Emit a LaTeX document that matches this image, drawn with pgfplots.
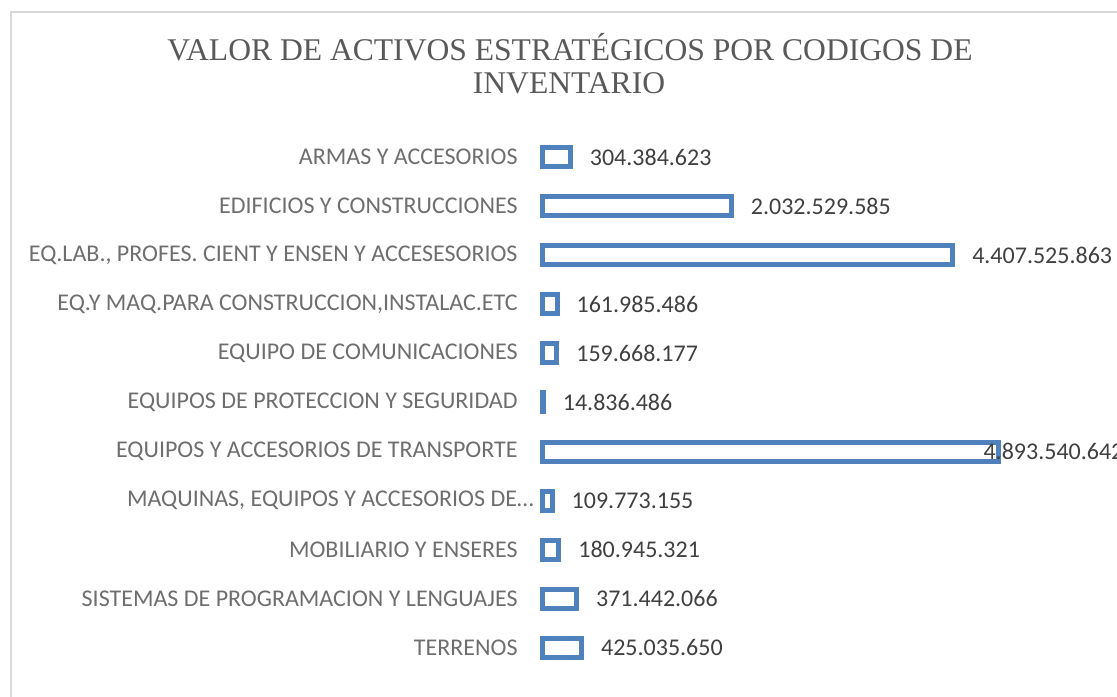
\documentclass[border=0pt]{standalone}
\usepackage{pgfplots}
\pgfplotsset{compat=1.18}
\usepackage{pgfplotstable}
\usepackage{fontspec}
\setmainfont{Liberation Serif}
\newfontfamily\carlito{Carlito}
\definecolor{barblue}{HTML}{4F81BD}
\definecolor{titlegray}{HTML}{595959}
\definecolor{catgray}{HTML}{6E6E6E}
\definecolor{valgray}{HTML}{404040}
\definecolor{framegray}{HTML}{D9D9D9}

\pgfplotstableread{
y val lab sh
0 304384623 304.384.623 8.5
1 2032529585 2.032.529.585 8.5
2 4407525863 4.407.525.863 8.5
3 161985486 161.985.486 8.5
4 159668177 159.668.177 8.5
5 14836486 14.836.486 8.5
6 4893540642 4.893.540.642 -8.5
7 109773155 109.773.155 8.5
8 180945321 180.945.321 8.5
9 371442066 371.442.066 8.5
10 425035650 425.035.650 8.5
}\datatable

\begin{document}
\begin{tikzpicture}
\begin{scope}[x=0.5pt,y=-0.5pt]
\path[use as bounding box] (0,0) rectangle (1117,696);
\clip (0,0) rectangle (1117,696);
\draw[framegray, line width=0.8pt] (11,720) -- (11,12) -- (1140,12);
\node[anchor=base, font=\fontsize{15.8}{18}\selectfont, text=titlegray, inner sep=0pt] at (570,60) {VALOR DE ACTIVOS ESTRATÉGICOS POR CODIGOS DE};
\node[anchor=base, font=\fontsize{15.8}{18}\selectfont, text=titlegray, inner sep=0pt] at (569,93) {INVENTARIO};
\coordinate (A) at (542,132.45);
\end{scope}
\begin{scope}
\clip (0pt,0pt) rectangle (558.5pt,-348pt);
\begin{axis}[
  at={(A)}, anchor=north west,
  scale only axis, width=233pt, height=270pt,
  xmin=0, xmax=5e9, ymin=-0.5, ymax=10.5, y dir=reverse,
  axis line style={draw=none},
  major tick length=0pt,
  xtick=\empty,
  ytick={0,...,10},
  yticklabels={ARMAS Y ACCESORIOS,EDIFICIOS Y CONSTRUCCIONES,{EQ.LAB., PROFES. CIENT Y ENSEN Y ACCESESORIOS},{EQ.Y MAQ.PARA CONSTRUCCION,INSTALAC.ETC},EQUIPO DE COMUNICACIONES,EQUIPOS DE PROTECCION Y SEGURIDAD,EQUIPOS Y ACCESORIOS DE TRANSPORTE,{MAQUINAS, EQUIPOS Y ACCESORIOS DE…\kern-8pt},MOBILIARIO Y ENSERES,SISTEMAS DE PROGRAMACION Y LENGUAJES,TERRENOS},
  yticklabel style={font=\carlito\fontsize{12}{14}\selectfont, text=catgray, anchor=east, inner sep=0pt, xshift=-12pt},
  xbar, bar width=9.5pt, bar shift=0pt,
  clip=false,
  point meta=explicit symbolic,
  visualization depends on={\thisrow{sh} \as \myshift},
  nodes near coords,
  nodes near coords style={font=\carlito\fontsize{12}{14}\selectfont, text=valgray, anchor=west, inner sep=0pt, xshift=\myshift pt},
]
\addplot[draw=barblue, fill=white, line width=2.5pt, line join=miter] table[x=val, y=y, meta=lab] {\datatable};
\end{axis}
\end{scope}
\end{tikzpicture}
\end{document}
